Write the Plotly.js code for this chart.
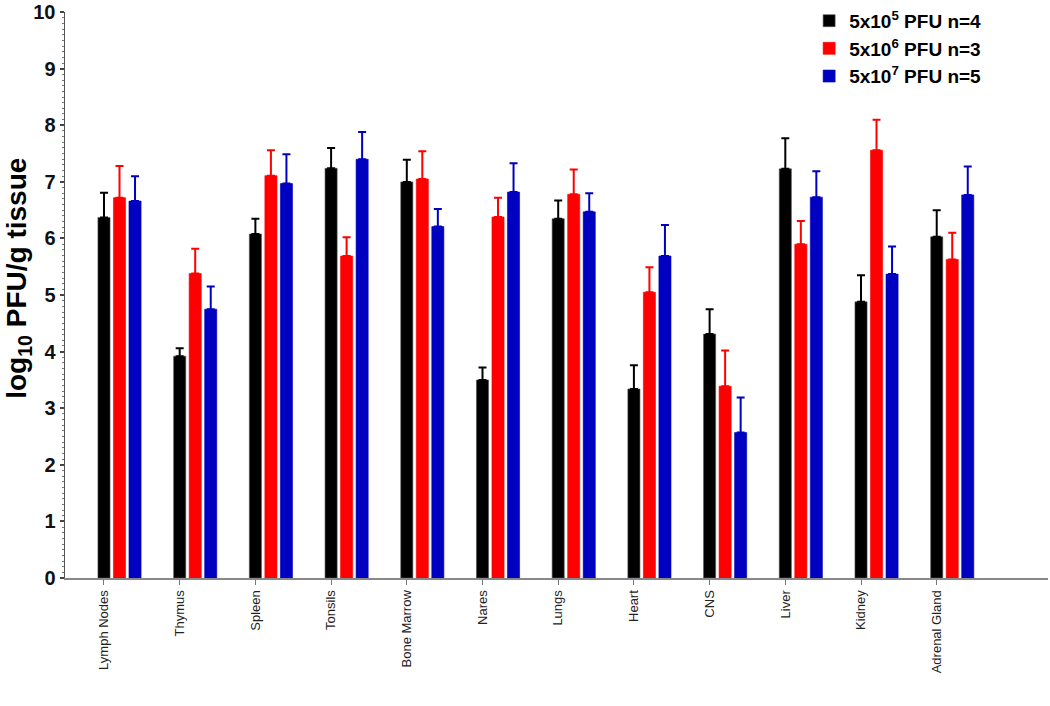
<!DOCTYPE html>
<html>
<head>
<meta charset="utf-8">
<script src="https://cdn.plot.ly/plotly-3.0.1.min.js"></script>
<style>html,body{margin:0;padding:0;background:#fff}#chart{width:1050px;height:706px}</style>
</head>
<body>
<div id="chart"></div>
<script>
const categories = ["Lymph Nodes","Thymus","Spleen","Tonsils","Bone Marrow","Nares","Lungs","Heart","CNS","Liver","Kidney","Adrenal Gland"];
const seriesNames = ["5x10<sup>5</sup> PFU n=4","5x10<sup>6</sup> PFU n=3","5x10<sup>7</sup> PFU n=5"];
const low  = [6.37,3.92,6.08,7.24,7.00,3.50,6.35,3.34,4.31,7.23,4.88,6.03];
const lowErr = [0.44,0.14,0.27,0.36,0.39,0.22,0.32,0.42,0.44,0.54,0.47,0.47];
const mid  = [6.72,5.38,7.11,5.69,7.05,6.38,6.78,5.05,3.39,5.90,7.56,5.63];
const midErr = [0.56,0.44,0.45,0.33,0.49,0.34,0.44,0.44,0.63,0.41,0.54,0.47];
const high = [6.66,4.75,6.97,7.40,6.21,6.82,6.47,5.69,2.57,6.73,5.37,6.77];
const highErr = [0.44,0.40,0.52,0.48,0.31,0.51,0.33,0.55,0.62,0.46,0.49,0.50];
const yTicks = [0,1,2,3,4,5,6,7,8,9,10];
const yTitle = 'log<sub>10</sub> PFU/g tissue';

const colors = ["#000000","#ff0000","#0000c0"];
const offsets = [-0.08, 0.125, 0.33];
const vals = [low, mid, high];
const errs = [lowErr, midErr, highErr];
const FONT = 'Liberation Sans, Arial, sans-serif';

const traces = vals.map((v,i)=>({
  type:'bar',
  name: seriesNames[i],
  x: categories,
  y: v,
  width: 0.16,
  offset: offsets[i],
  marker:{color:colors[i], line:{color: i===0?'#555':colors[i], width:0.6}},
  error_y:{type:'data', array: errs[i], arrayminus: v.map(()=>0), symmetric:false, color:colors[i], thickness:2, width:4}
}));

const layout = {
  width:1050, height:706,
  margin:{l:65, r:2, t:10, b:128},
  paper_bgcolor:'#fff', plot_bgcolor:'#fff',
  barmode:'overlay',
  showlegend:true,
  legend:{x:0.757, y:1.018, xanchor:'left', yanchor:'top', bgcolor:'rgba(0,0,0,0)',
    font:{family:FONT, size:19, color:'#000', weight:'bold'},
    tracegroupgap:0},
  xaxis:{
    type:'category',
    range:[-0.515, 12.47],
    showline:true, linecolor:'#888', linewidth:2,
    ticks:'outside', ticklen:5, tickcolor:'#777', tickwidth:1,
    tickangle:-90,
    tickfont:{family:FONT, size:13, color:'#222'},
    showgrid:false, zeroline:false, fixedrange:true
  },
  yaxis:{
    range:[0,10.002],
    tickvals:yTicks,
    ticktext:yTicks.map(String),
    showline:true, linecolor:'#555', linewidth:1.5,
    ticks:'outside', ticklen:4, tickcolor:'#444', tickwidth:2,
    minor:{dtick:0.1, ticks:'outside', ticklen:2, tickcolor:'#777', tickwidth:1},
    tickfont:{family:FONT, size:20, color:'#111', weight:'bold'},
    showgrid:false, zeroline:false
  },
  annotations:[{
    text: yTitle, textangle:-90, showarrow:false,
    xref:'paper', yref:'paper', x:-0.048, y:0.53, xanchor:'center', yanchor:'middle',
    font:{family:FONT, size:28, color:'#000', weight:'bold'}
  }]
};
Plotly.newPlot('chart', traces, layout, {displayModeBar:false, staticPlot:true});
</script>
</body>
</html>
